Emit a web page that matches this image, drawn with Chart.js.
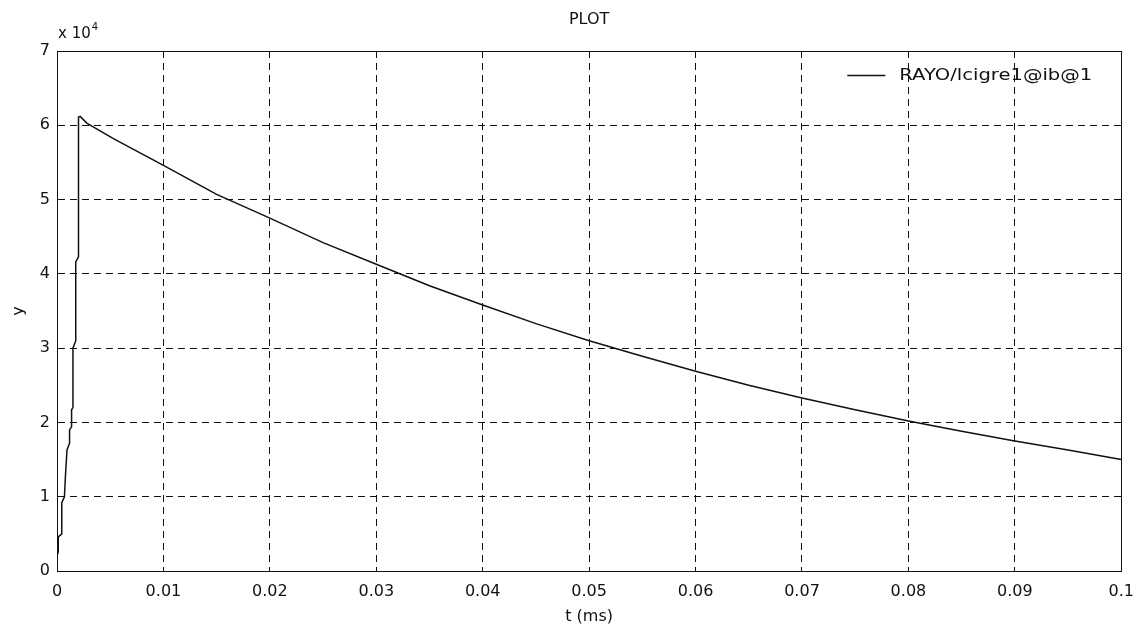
<!DOCTYPE html>
<html>
<head>
<meta charset="utf-8">
<script src="https://cdn.jsdelivr.net/npm/chart.js@4/dist/chart.umd.min.js"></script>
<style>
  html, body { margin: 0; padding: 0; background: #fff; }
  #wrap { width: 1145px; height: 630px; position: relative; }
</style>
</head>
<body>
<div id="wrap"><canvas id="c" width="1145" height="630"></canvas></div>
<script>
// ---- data (y in units of 10^4) ----
const chartTitle = "PLOT";
const seriesName = "RAYO/lcigre1@ib@1";
const xAxisTitle = "t (ms)";
const yAxisTitle = "y";
const tVals = [0.00005, 0.0001, 0.00012, 0.00045, 0.00045, 0.0007, 0.0008, 0.00094, 0.00118, 0.00118,
               0.00137, 0.00137, 0.0015, 0.0015, 0.00176, 0.00176, 0.00202, 0.00202, 0.00218,
               0.0028, 0.0053, 0.01, 0.015, 0.02, 0.025, 0.03, 0.035, 0.04, 0.045, 0.05,
               0.055, 0.06, 0.065, 0.07, 0.075, 0.08, 0.085, 0.09, 0.095, 0.1];
const yVals = [0.22, 0.26, 0.46, 0.50, 0.92, 1.0, 1.3, 1.63, 1.72, 1.9,
               1.94, 2.17, 2.2, 3.0, 3.1, 4.16, 4.23, 6.11, 6.12,
               6.03, 5.82, 5.46, 5.07, 4.75, 4.42, 4.13, 3.84, 3.58, 3.33, 3.10,
               2.89, 2.69, 2.50, 2.33, 2.17, 2.02, 1.88, 1.75, 1.63, 1.50];
const xMin = 0, xMax = 0.1, xStep = 0.01;
const yMin = 0, yMax = 7, yStep = 1;
const yExponent = "4";

const FONT = "'DejaVu Sans', 'Liberation Sans', Arial, sans-serif";
const INK = "#111";

const framePlugin = {
  id: 'frame',
  afterDraw(chart) {
    const {ctx, chartArea: a} = chart;
    ctx.save();
    ctx.strokeStyle = INK;
    ctx.lineWidth = 1;
    ctx.setLineDash([]);
    ctx.strokeRect(Math.round(a.left) + 0.5, Math.round(a.top) + 0.5,
                   Math.round(a.right - a.left), Math.round(a.bottom - a.top));
    // exponent label "x 10^4"
    ctx.fillStyle = INK;
    ctx.textBaseline = 'alphabetic';
    ctx.font = "15px " + FONT;
    ctx.fillText("x 10", a.left + 1, a.top - 13);
    const w = ctx.measureText("x 10").width;
    ctx.font = "10px " + FONT;
    ctx.fillText(yExponent, a.left + 2 + w, a.top - 21);
    // legend (inside top-right, no box)
    const ds = chart.data.datasets[0];
    const ly = a.top + 24.5;
    const lineX0 = a.right - 274, lineX1 = a.right - 236;
    ctx.strokeStyle = ds.borderColor;
    ctx.lineWidth = 1.5;
    ctx.beginPath(); ctx.moveTo(lineX0, ly); ctx.lineTo(lineX1, ly); ctx.stroke();
    ctx.font = "16px " + FONT;
    ctx.textBaseline = 'middle';
    ctx.textAlign = 'left';
    const label = ds.label;
    const target = 193;
    const tw = ctx.measureText(label).width;
    ctx.save();
    ctx.translate(lineX1 + 14, ly);
    ctx.scale(target / tw, 1);
    ctx.fillText(label, 0, 0);
    ctx.restore();
    ctx.restore();
  }
};

Chart.defaults.font.family = FONT;
Chart.defaults.font.size = 16;
Chart.defaults.color = INK;

new Chart(document.getElementById('c'), {
  type: 'line',
  data: {
    datasets: [{
      label: seriesName,
      data: tVals.map((t, i) => ({x: t, y: yVals[i]})),
      borderColor: INK,
      backgroundColor: INK,
      borderWidth: 1.5,
      pointRadius: 0,
      tension: 0,
      fill: false
    }]
  },
  options: {
    responsive: false,
    animation: false,
    layout: { padding: { left: 0, right: 21, top: 0, bottom: 0 } },
    plugins: {
      title: {
        display: true, text: chartTitle, color: INK, fullSize: false,
        font: { size: 16, weight: 'normal' },
        padding: { top: 10, bottom: 21.8 }
      },
      legend: { display: false },
      tooltip: { enabled: false }
    },
    scales: {
      x: {
        type: 'linear', min: xMin, max: xMax,
        afterFit(s) { s.height = 59; },
        ticks: {
          stepSize: xStep, padding: 11, color: INK, maxRotation: 0,
          callback: v => Number(v.toFixed(2)).toString()
        },
        grid: { color: INK, lineWidth: 1, drawTicks: false },
        border: { display: true, color: INK, dash: [7, 5] },
        title: { display: true, text: xAxisTitle, color: INK, padding: { top: 0, bottom: 4 } }
      },
      y: {
        type: 'linear', min: yMin, max: yMax,
        afterFit(s) { s.width = 57; },
        ticks: { stepSize: yStep, padding: 7, color: INK },
        grid: { color: INK, lineWidth: 1, drawTicks: false },
        border: { display: true, color: INK, dash: [7, 5] },
        title: { display: true, text: yAxisTitle, color: INK, padding: { top: 9, bottom: 0 } }
      }
    }
  },
  plugins: [framePlugin]
});
</script>
</body>
</html>
